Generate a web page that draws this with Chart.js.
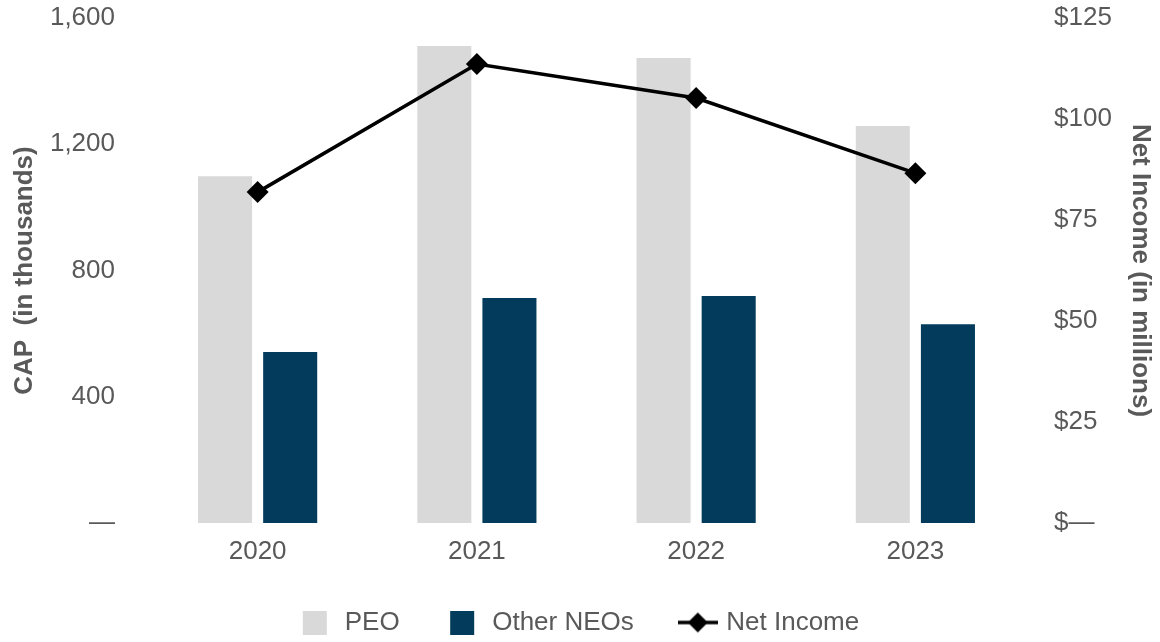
<!DOCTYPE html>
<html>
<head>
<meta charset="utf-8">
<script src="https://cdn.jsdelivr.net/npm/chart.js@4.4.1/dist/chart.umd.min.js"></script>
<style>
  html, body { margin: 0; padding: 0; background: #fff; }
  #wrap { width: 1160px; height: 642px; }
</style>
</head>
<body>
<div id="wrap"><canvas id="myChart" width="1160" height="642"></canvas></div>
<script>
const years = ['2020', '2021', '2022', '2023'];
const peoCap = [1099, 1511, 1473, 1258];
const otherNeoCap = [542, 713, 719, 630];
const netIncome = [81.9, 113.6, 105.2, 86.6];

const leftTicks = [0, 400, 800, 1200, 1600];
const rightTicks = [0, 25, 50, 75, 100, 125];

const textColor = '#595959';
const peoColor = '#d9d9d9';
const neoColor = '#023b5c';
const fontFamily = '"Liberation Sans", Arial, sans-serif';

// little pictures for the legend
function boxIcon(color) {
    const c = document.createElement('canvas');
    c.width = 31; c.height = 24;
    const ctx = c.getContext('2d');
    ctx.fillStyle = color;
    ctx.fillRect(2, 0, 24, 24);
    return c;
}
function lineIcon() {
    const c = document.createElement('canvas');
    c.width = 40; c.height = 24;
    const ctx = c.getContext('2d');
    ctx.strokeStyle = '#000';
    ctx.lineWidth = 3.5;
    ctx.beginPath();
    ctx.moveTo(0, 12); ctx.lineTo(40, 12);
    ctx.stroke();
    ctx.fillStyle = '#000';
    ctx.beginPath();
    ctx.moveTo(20, 2); ctx.lineTo(30, 12); ctx.lineTo(20, 22); ctx.lineTo(10, 12);
    ctx.closePath();
    ctx.fill();
    return c;
}
const legendIcons = [boxIcon(peoColor), boxIcon(neoColor), lineIcon()];

const data2 = {
    labels: years,
    datasets: [
        {
            type: 'line',
            label: 'Net Income',
            data: netIncome,
            yAxisID: 'y2',
            borderColor: '#000',
            backgroundColor: '#000',
            borderWidth: 3.5,
            pointStyle: 'rectRot',
            pointRadius: 11,
            pointBorderWidth: 0,
            fill: false,
            tension: 0,
            order: 0
        },
        {
            type: 'bar',
            label: 'PEO',
            data: peoCap,
            yAxisID: 'y',
            backgroundColor: peoColor,
            categoryPercentage: 0.594,
            barPercentage: 0.83,
            order: 1
        },
        {
            type: 'bar',
            label: 'Other NEOs',
            data: otherNeoCap,
            yAxisID: 'y',
            backgroundColor: neoColor,
            categoryPercentage: 0.594,
            barPercentage: 0.83,
            order: 1
        }
    ]
};

const legendOrder = [1, 2, 0];

function fixSide(width) {
    return (scale) => {
        scale.width = width;
        scale.paddingTop = 0;
        scale.paddingBottom = 0;
    };
}

const options = {
    responsive: false,
    animation: false,
    devicePixelRatio: 1,
    layout: { padding: { top: 18, bottom: 0, left: 0, right: 0 } },
    plugins: {
        tooltip: { enabled: false },
        legend: {
            position: 'bottom',
            maxHeight: 81,
            labels: {
                usePointStyle: true,
                pointStyleWidth: 31,
                padding: 48.5,
                color: textColor,
                font: { family: fontFamily, size: 26 },
                generateLabels: (chart) => legendOrder.map((di, k) => ({
                    text: chart.data.datasets[di].label,
                    pointStyle: legendIcons[k],
                    fillStyle: chart.data.datasets[di].backgroundColor,
                    strokeStyle: 'transparent',
                    lineWidth: 0,
                    fontColor: textColor,
                    hidden: false,
                    datasetIndex: di
                }))
            }
        }
    },
    scales: {
        x: {
            afterFit: (scale) => { scale.height = 38; },
            grid: { display: false, drawTicks: false },
            border: { display: false },
            ticks: {
                color: textColor,
                padding: 13,
                font: { family: fontFamily, size: 26 }
            }
        },
        y: {
            position: 'left',
            min: 0,
            max: 1600,
            afterBuildTicks: (scale) => { scale.ticks = leftTicks.map(v => ({ value: v })); },
            afterFit: fixSide(148),
            grid: { display: false, drawTicks: false },
            border: { display: false },
            ticks: {
                color: textColor,
                padding: 33,
                font: { family: fontFamily, size: 26 },
                callback: (v) => v === 0 ? '—' : v.toLocaleString('en-US')
            },
            title: {
                display: true,
                text: 'CAP  (in thousands)',
                color: textColor,
                padding: { top: 9, bottom: 0 },
                font: { family: fontFamily, size: 26, weight: 'bold' }
            }
        },
        y2: {
            position: 'right',
            min: 0,
            max: 125,
            afterBuildTicks: (scale) => { scale.ticks = rightTicks.map(v => ({ value: v })); },
            afterFit: fixSide(135),
            grid: { display: false, drawTicks: false },
            border: { display: false },
            ticks: {
                color: textColor,
                padding: 29,
                font: { family: fontFamily, size: 26 },
                callback: (v) => v === 0 ? '$—' : '$' + v
            },
            title: {
                display: true,
                text: 'Net Income (in millions)',
                color: textColor,
                padding: { top: 4, bottom: 0 },
                font: { family: fontFamily, size: 26, weight: 'bold' }
            }
        }
    }
};

const ctx = document.getElementById('myChart').getContext('2d');
const myChart = new Chart(ctx, {
    type: 'bar',
    data: data2,
    options: options
});
</script>
</body>
</html>
